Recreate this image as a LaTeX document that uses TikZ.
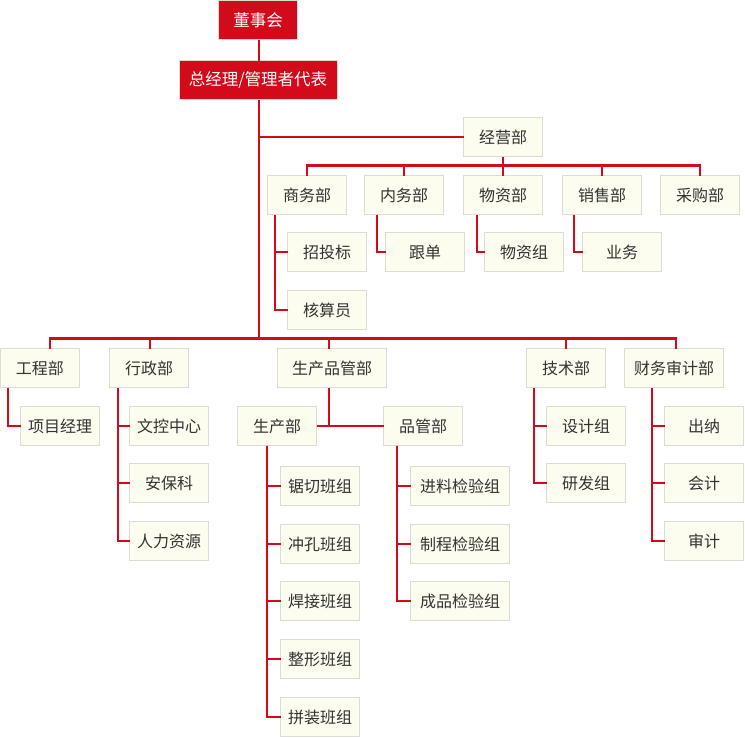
\documentclass[tikz,border=0pt]{standalone}
\usepackage{fontspec}
\setmainfont{Noto Sans CJK SC}
\definecolor{cred}{HTML}{D20A1A}
\definecolor{bfill}{HTML}{FCFCEF}
\definecolor{bdraw}{HTML}{DCDCD2}
\definecolor{tgray}{HTML}{333333}
\begin{document}
\begin{tikzpicture}[x=1pt,y=-1pt,
  box/.style={draw=bdraw,fill=bfill,line width=1pt,minimum width=79pt,minimum height=39pt,inner sep=0pt,outer sep=0pt,text=tgray,font=\fontsize{16pt}{18pt}\selectfont},
  wbox/.style={box,minimum width=99pt},
  top/.style={draw=bdraw,fill=cred,line width=1pt,minimum height=39pt,inner sep=0pt,outer sep=0pt,text=white,font=\fontsize{16.5pt}{18pt}\selectfont},
  conn/.style={draw=cred,line width=2.2pt}]
\useasboundingbox (0,0) rectangle (745,737);
% top
\node[top,minimum width=79pt] (dsh) at (258,20) {董事会};
\node[top,minimum width=158pt] (zjl) at (258,80) {总经理/管理者代表};
\coordinate (bus2) at (259,338);
% business
\node[box] (jyb) at (503,137) {经营部};
\node[box] (swb) at (307,195) {商务部};
\node[box] (nwb) at (404,195) {内务部};
\node[box] (wzb) at (503,195) {物资部};
\node[box] (xsb) at (602,195) {销售部};
\node[box] (cgb) at (700,195) {采购部};
\node[box] (ztb) at (327,252) {招投标};
\node[box] (hsy) at (327,310) {核算员};
\node[box] (gd)  at (425,252) {跟单};
\node[box] (wzz) at (524,252) {物资组};
\node[box] (yw)  at (622,252) {业务};
% lower departments
\node[box] (gcb) at (40,368) {工程部};
\node[box] (xzb) at (149,368) {行政部};
\node[box,minimum width=109pt] (scpg) at (332,368) {生产品管部};
\node[box] (jsb) at (566,368) {技术部};
\node[wbox] (cwsj) at (674,368) {财务审计部};
\node[box] (xmjl) at (60,426) {项目经理};
\node[box] (wkzx) at (169,426) {文控中心};
\node[box] (abk) at (169,483) {安保科};
\node[box] (rlzy) at (169,541) {人力资源};
\node[box] (scb) at (277,426) {生产部};
\node[box] (pgb) at (423,426) {品管部};
\node[box] (jq) at (320,486) {锯切班组};
\node[box] (ck) at (320,544) {冲孔班组};
\node[box] (hj) at (320,601) {焊接班组};
\node[box] (zx) at (320,659) {整形班组};
\node[box] (pz) at (320,717) {拼装班组};
\node[wbox] (jl) at (460,486) {进料检验组};
\node[wbox] (zc) at (460,544) {制程检验组};
\node[wbox] (cp) at (460,601) {成品检验组};
\node[box] (sjz) at (586,426) {设计组};
\node[box] (yfz) at (586,483) {研发组};
\node[box] (cn) at (704,426) {出纳};
\node[box] (kj) at (704,483) {会计};
\node[box] (sj) at (704,541) {审计};
% connectors
\draw[conn] ([xshift=1pt]dsh.south) -- ([xshift=1pt]zjl.north);
\draw[conn] ([xshift=1pt]zjl.south) -- (bus2);
\draw[conn] (jyb.west) -- (jyb.west -| bus2);
\draw[conn] (jyb.south) -- (wzb.north);
\draw[conn] (swb.north) -- ++(0,-10) -| (cgb.north);
\draw[conn] (nwb.north) -- ++(0,-10);
\draw[conn] (xsb.north) -- ++(0,-10);
\draw[conn] ([xshift=-32pt]swb.south) |- (ztb.west);
\draw[conn] ([xshift=-32pt]swb.south) |- (hsy.west);
\draw[conn] ([xshift=-27pt]nwb.south) |- (gd.west);
\draw[conn] ([xshift=-26pt]wzb.south) |- (wzz.west);
\draw[conn] ([xshift=-28pt]xsb.south) |- (yw.west);
% lower bus
\draw[conn] ([xshift=10pt]gcb.north) -- ++(0,-10) -| ([xshift=2pt]cwsj.north);
\draw[conn] ([xshift=1pt]xzb.north) -- ++(0,-10);
\draw[conn] ([xshift=-3pt]scpg.north) -- ++(0,-10);
\draw[conn] (jsb.north) -- ++(0,-10);
\draw[conn] ([xshift=-32pt]gcb.south) |- (xmjl.west);
\draw[conn] ([xshift=-31pt]xzb.south) |- (wkzx.west);
\draw[conn] ([xshift=-31pt]xzb.south) |- (abk.west);
\draw[conn] ([xshift=-31pt]xzb.south) |- (rlzy.west);
\draw[conn] (scb.east) -- (pgb.west);
\draw[conn] ([xshift=-3pt]scpg.south) -- ([xshift=-3pt]scpg.south |- scb.east);
\draw[conn] ([xshift=-10pt]scb.south) |- (jq.west);
\draw[conn] ([xshift=-10pt]scb.south) |- (ck.west);
\draw[conn] ([xshift=-10pt]scb.south) |- (hj.west);
\draw[conn] ([xshift=-10pt]scb.south) |- (zx.west);
\draw[conn] ([xshift=-10pt]scb.south) |- (pz.west);
\draw[conn] ([xshift=-26pt]pgb.south) |- (jl.west);
\draw[conn] ([xshift=-26pt]pgb.south) |- (zc.west);
\draw[conn] ([xshift=-26pt]pgb.south) |- (cp.west);
\draw[conn] ([xshift=-32pt]jsb.south) |- (sjz.west);
\draw[conn] ([xshift=-32pt]jsb.south) |- (yfz.west);
\draw[conn] ([xshift=-22pt]cwsj.south) |- (cn.west);
\draw[conn] ([xshift=-22pt]cwsj.south) |- (kj.west);
\draw[conn] ([xshift=-22pt]cwsj.south) |- (sj.west);
\end{tikzpicture}
\end{document}
